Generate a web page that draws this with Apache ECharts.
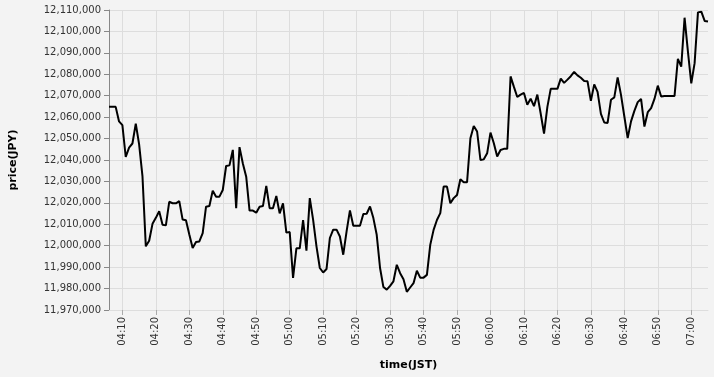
<!DOCTYPE html>
<html><head><meta charset="utf-8">
<script src="https://cdn.jsdelivr.net/npm/echarts@6/dist/echarts.min.js"></script>
<style>html,body{margin:0;padding:0;background:#f3f3f3}#c{width:714px;height:377px}</style>
</head><body><div id="c"></div>
<script>
const times = [
"04:06","04:07","04:08","04:09",
"04:10","04:11","04:12","04:13","04:14","04:15","04:16","04:17","04:18","04:19",
"04:20","04:21","04:22","04:23","04:24","04:25","04:26","04:27","04:28","04:29",
"04:30","04:31","04:32","04:33","04:34","04:35","04:36","04:37","04:38","04:39",
"04:40","04:41","04:42","04:43","04:44","04:45","04:46","04:47","04:48","04:49",
"04:50","04:51","04:52","04:53","04:54","04:55","04:56","04:57","04:58","04:59",
"05:00","05:01","05:02","05:03","05:04","05:05","05:06","05:07","05:08","05:09",
"05:10","05:11","05:12","05:13","05:14","05:15","05:16","05:17","05:18","05:19",
"05:20","05:21","05:22","05:23","05:24","05:25","05:26","05:27","05:28","05:29",
"05:30","05:31","05:32","05:33","05:34","05:35","05:36","05:37","05:38","05:39",
"05:40","05:41","05:42","05:43","05:44","05:45","05:46","05:47","05:48","05:49",
"05:50","05:51","05:52","05:53","05:54","05:55","05:56","05:57","05:58","05:59",
"06:00","06:01","06:02","06:03","06:04","06:05","06:06","06:07","06:08","06:09",
"06:10","06:11","06:12","06:13","06:14","06:15","06:16","06:17","06:18","06:19",
"06:20","06:21","06:22","06:23","06:24","06:25","06:26","06:27","06:28","06:29",
"06:30","06:31","06:32","06:33","06:34","06:35","06:36","06:37","06:38","06:39",
"06:40","06:41","06:42","06:43","06:44","06:45","06:46","06:47","06:48","06:49",
"06:50","06:51","06:52","06:53","06:54","06:55","06:56","06:57","06:58","06:59",
"07:00","07:01","07:02","07:03","07:04","07:05"
];
const prices = [
12064800,12064800,12064800,12058000,12056300,12041400,12045800,12047700,12057000,12047300,
12032500,11999700,12002300,12010200,12013000,12016100,12009800,12009500,12020500,12019800,
12019800,12020800,12012200,12011900,12005200,11998900,12001700,12002000,12005900,12018200,
12018500,12025700,12022900,12022900,12026000,12037200,12037500,12044700,12017500,12046000,
12038400,12032200,12016400,12016400,12015400,12018200,12018500,12027900,12017500,12017500,
12023200,12015100,12019800,12006100,12006400,11985000,11998800,11998800,12012000,11997700,
12022200,12012100,11999700,11989600,11987500,11989100,12003600,12007500,12007500,12004300,
11995800,12006700,12016500,12009300,12009300,12009300,12014800,12014900,12018300,12012900,
12005100,11989600,11980700,11979500,11981300,11983400,11991100,11987200,11984400,11978500,
11980500,11982500,11988300,11985100,11985100,11986400,12000400,12007400,12012000,12015200,
12027600,12027600,12019800,12022200,12023700,12031000,12029600,12029600,12050100,12055900,
12053300,12040000,12040300,12043100,12052800,12047800,12041600,12044700,12045200,12045200,
12079000,12074100,12069400,12070500,12071300,12065800,12068600,12065100,12070500,12061700,
12052300,12064800,12073200,12073200,12073200,12078000,12076000,12077500,12079100,12081100,
12079500,12078400,12076900,12076700,12067600,12075300,12071800,12061500,12057500,12057300,
12068100,12069200,12078500,12070400,12060300,12050200,12058000,12062900,12067000,12068500,
12055600,12062300,12064200,12068500,12074700,12069600,12069900,12069900,12069900,12069900,
12087200,12083600,12106400,12090600,12075800,12085200,12108900,12109200,12104900,12104600
];
const yMin = 11970000, yMax = 12110000, yStep = 10000;
const xTitle = 'time(JST)', yTitle = 'price(JPY)';

const isTen = (i, v) => String(v).endsWith('0');
const font = 'DejaVu Sans';
const chart = echarts.init(document.getElementById('c'), null, {renderer: 'canvas'});
chart.setOption({
  backgroundColor: '#f3f3f3',
  animation: false,
  grid: {left: 107, right: 6, top: 10, bottom: 67},
  xAxis: {
    type: 'category', data: times, boundaryGap: false,
    axisLine: {show: true, lineStyle: {color: '#dddddd'}},
    axisTick: {show: true, interval: isTen, length: 5, lineStyle: {color: '#aaaaaa'}},
    axisLabel: {interval: isTen, rotate: 90, fontFamily: font, fontSize: 10, color: '#333', margin: 7},
    splitLine: {show: true, interval: isTen, lineStyle: {color: '#dddddd', width: 1}},
    name: xTitle, nameLocation: 'middle', nameGap: 50,
    nameTextStyle: {fontFamily: font, fontSize: 11, fontWeight: 'bold', color: '#000'}
  },
  yAxis: {
    type: 'value', min: yMin, max: yMax, interval: yStep,
    axisLine: {show: true, lineStyle: {color: '#888888'}},
    axisTick: {show: true, length: 5, lineStyle: {color: '#888888'}},
    axisLabel: {formatter: v => v.toLocaleString('en-US'), fontFamily: font, fontSize: 10, color: '#333', margin: 8},
    splitLine: {show: true, lineStyle: {color: '#dddddd', width: 1}},
    name: yTitle, nameLocation: 'middle', nameGap: 90,
    nameTextStyle: {fontFamily: font, fontSize: 11, fontWeight: 'bold', color: '#000'}
  },
  series: [{
    type: 'line', data: prices, showSymbol: false, symbol: 'none',
    lineStyle: {color: '#000', width: 2}, itemStyle: {color: '#000'}
  }]
});
</script>
</body></html>
